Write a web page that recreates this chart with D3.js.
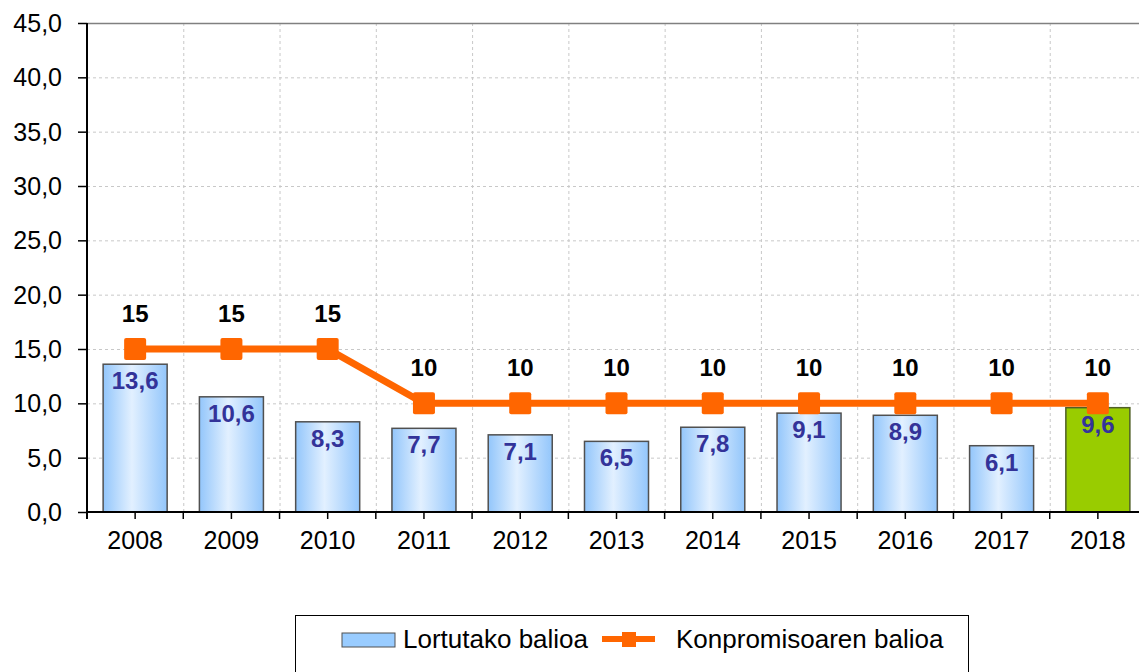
<!DOCTYPE html>
<html><head><meta charset="utf-8">
<script src="https://cdn.jsdelivr.net/npm/d3@7/dist/d3.min.js"></script>
<style>
html,body{margin:0;padding:0;background:#fff;overflow:hidden}
text{font-family:"Liberation Sans",Arial,sans-serif}
</style></head>
<body><svg id="c" width="1139" height="672"></svg>
<script>
const years = ["2008","2009","2010","2011","2012","2013","2014","2015","2016","2017","2018"];
const achieved = [13.6,10.6,8.3,7.7,7.1,6.5,7.8,9.1,8.9,6.1,9.6];
const commitment = [15,15,15,10,10,10,10,10,10,10,10];
const yTicks = [0,5,10,15,20,25,30,35,40,45];
const seriesNames = ["Lortutako balioa","Konpromisoaren balioa"];

const svg = d3.select("#c");
const L = 87, R = 1146, T = 23, B = 512;
const x = d3.scaleBand().domain(years).range([L,R]).padding(0);
const y = d3.scaleLinear().domain([0,45]).range([B,T]);
const fmt = v => d3.format(".1f")(v).replace(".",",");

const defs = svg.append("defs");
const g1 = defs.append("linearGradient").attr("id","bg").attr("x1","0").attr("x2","1").attr("y1","0").attr("y2","0");
g1.append("stop").attr("offset","0").attr("stop-color","#93c6fb");
g1.append("stop").attr("offset","0.45").attr("stop-color","#e2f0ff");
g1.append("stop").attr("offset","1").attr("stop-color","#93c6fb");

// grid
svg.append("g").selectAll("line").data(yTicks.filter(d=>d>0 && d<45)).join("line")
  .attr("x1",L).attr("x2",R).attr("y1",d=>y(d)+0.5).attr("y2",d=>y(d)+0.5)
  .attr("stroke","#c8c8c8").attr("stroke-dasharray","3,3");
svg.append("g").selectAll("line").data(years.slice(1)).join("line")
  .attr("x1",d=>x(d)+0.5).attr("x2",d=>x(d)+0.5).attr("y1",T).attr("y2",B)
  .attr("stroke","#c8c8c8").attr("stroke-dasharray","3,3");
// top border
svg.append("line").attr("x1",L).attr("x2",R).attr("y1",T+0.5).attr("y2",T+0.5).attr("stroke","#808080").attr("stroke-width",1.5);

// bars
const bw = x.bandwidth()*0.665;
svg.append("g").selectAll("rect").data(years).join("rect")
  .attr("x",d=>x(d)+(x.bandwidth()-bw)/2)
  .attr("width",bw)
  .attr("y",(d,i)=>y(achieved[i]))
  .attr("height",(d,i)=>B-y(achieved[i]))
  .attr("fill",(d,i)=>i===years.length-1?"#99cc00":"url(#bg)")
  .attr("stroke",(d,i)=>i===years.length-1?"#4f5f26":"#505050")
  .attr("stroke-width",1.5);

// axes
const ya = svg.append("g").attr("transform",`translate(${L},0)`)
  .call(d3.axisLeft(y).tickValues(yTicks).tickFormat(fmt).tickSize(9).tickPadding(16));
ya.select(".domain").remove();
ya.selectAll("line").attr("stroke","#000").attr("stroke-width",1.5);
ya.selectAll("text").attr("font-size",25).attr("fill","#000").attr("dy","0.34em");
svg.append("line").attr("x1",L).attr("x2",L).attr("y1",T).attr("y2",B+7).attr("stroke","#000").attr("stroke-width",2);

const xa = svg.append("g").attr("transform",`translate(0,${B})`)
  .call(d3.axisBottom(x).tickSize(7).tickPadding(12));
xa.select(".domain").remove();
xa.selectAll("line").attr("stroke","#000").attr("stroke-width",1.5);
xa.selectAll("text").attr("font-size",25).attr("fill","#000");
svg.append("g").selectAll("line").data(years).join("line")
  .attr("x1",d=>x(d)).attr("x2",d=>x(d)).attr("y1",B).attr("y2",B+7)
  .attr("stroke","#000").attr("stroke-width",1.5);
svg.append("line").attr("x1",L).attr("x2",R).attr("y1",B).attr("y2",B).attr("stroke","#000").attr("stroke-width",2);

// line
const cx = d => x(d)+x.bandwidth()/2;
svg.append("path").datum(years)
  .attr("d",d3.line().x(cx).y((d,i)=>y(commitment[i])))
  .attr("fill","none").attr("stroke","#ff6600").attr("stroke-width",7);
const ms = 22;
svg.append("g").selectAll("rect").data(years).join("rect")
  .attr("x",d=>cx(d)-ms/2).attr("y",(d,i)=>y(commitment[i])-ms/2)
  .attr("width",ms).attr("height",ms).attr("rx",2).attr("fill","#ff6600");

// labels
svg.append("g").selectAll("text").data(years).join("text")
  .attr("x",cx).attr("y",(d,i)=>y(achieved[i])+25)
  .attr("text-anchor","middle").attr("font-size",24).attr("font-weight","bold").attr("fill","#333399")
  .text((d,i)=>fmt(achieved[i]));
svg.append("g").selectAll("text").data(years).join("text")
  .attr("x",cx).attr("y",(d,i)=>y(commitment[i])-27)
  .attr("text-anchor","middle").attr("font-size",24).attr("font-weight","bold").attr("fill","#000")
  .text((d,i)=>commitment[i]);

// legend
const lg = svg.append("g");
lg.append("rect").attr("x",295.5).attr("y",615.5).attr("width",673).attr("height",70).attr("fill","#fff").attr("stroke","#000").attr("stroke-width",1);
lg.append("rect").attr("x",342).attr("y",633).attr("width",53).attr("height",14).attr("fill","#99ccff").attr("stroke","#505050").attr("stroke-width",1);
lg.append("text").attr("x",403).attr("y",648).attr("font-size",26).text(seriesNames[0]);
lg.append("line").attr("x1",602).attr("x2",655).attr("y1",639).attr("y2",639).attr("stroke","#ff6600").attr("stroke-width",6);
lg.append("rect").attr("x",622).attr("y",632).attr("width",14).attr("height",15).attr("fill","#ff6600");
lg.append("text").attr("x",676).attr("y",648).attr("font-size",26).text(seriesNames[1]);
</script></body></html>
